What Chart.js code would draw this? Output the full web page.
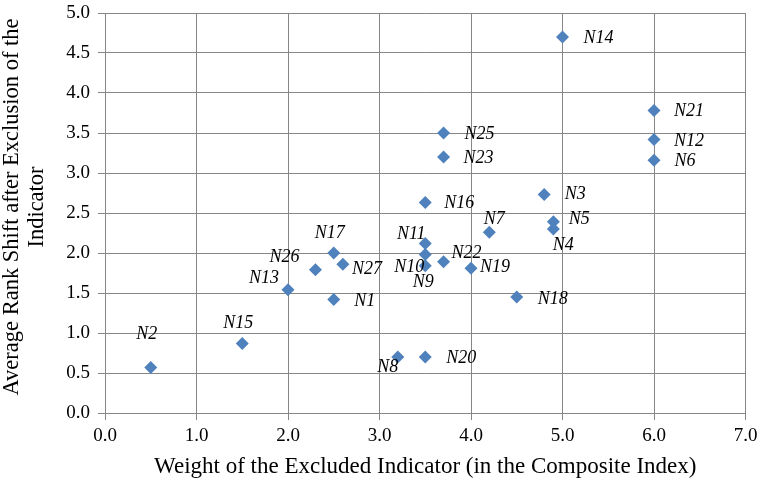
<!DOCTYPE html>
<html>
<head>
<meta charset="utf-8">
<script src="https://cdn.jsdelivr.net/npm/chart.js@4"></script>
<style>
html,body{margin:0;padding:0;background:#fff;}
#wrap{width:759px;height:482px;position:relative;}
</style>
</head>
<body>
<div id="wrap"><canvas id="c" width="759" height="482"></canvas></div>
<script>
const labels = ["N1","N2","N3","N4","N5","N6","N7","N8","N9","N10","N11","N12","N13","N14","N15","N16","N17","N18","N19","N20","N21","N22","N23","N25","N26","N27"];
const weights = [2.5,0.5,4.8,4.9,4.9,6.0,4.2,3.2,3.5,3.5,3.5,6.0,2.0,5.0,1.5,3.5,2.5,4.5,4.0,3.5,6.0,3.7,3.7,3.7,2.3,2.6];
const rankShift = [1.42,0.57,2.73,2.30,2.39,3.16,2.26,0.70,1.84,1.98,2.12,3.42,1.54,4.70,0.87,2.63,2.00,1.45,1.81,0.70,3.78,1.89,3.20,3.50,1.79,1.86];
const xTickLabels = ["0.0","1.0","2.0","3.0","4.0","5.0","6.0","7.0"];
const yTickLabels = ["0.0","0.5","1.0","1.5","2.0","2.5","3.0","3.5","4.0","4.5","5.0"];
const xTitle = "Weight of the Excluded Indicator (in the Composite Index)";
const yTitle = ["Average Rank Shift after Exclusion of the","Indicator"];

// label placement relative to each marker (style, not data)
const labelOffsets = {
  N1:[31,2], N2:[-4,-33], N3:[31,0], N4:[10,16], N5:[26,-3], N6:[31,1], N7:[5,-13],
  N8:[-10,10], N9:[-2,16], N10:[-16,13], N11:[-14,-9], N12:[35,2], N13:[-24,-12],
  N14:[36,1], N15:[-4,-20], N16:[34,1], N17:[-4,-20], N18:[36,2], N19:[24,-1],
  N20:[36,1], N21:[35,1], N22:[23,-9], N23:[35,1], N25:[36,1], N26:[-31,-13], N27:[24,5]
};

const points = weights.map((w,i)=>({x:w, y:rankShift[i]}));
const serif = "'Liberation Serif','Times New Roman',serif";
const gridColor = '#868686';

const pointLabels = {
  id:'pointLabels',
  afterDatasetsDraw(chart){
    const ctx = chart.ctx;
    const meta = chart.getDatasetMeta(0);
    ctx.save();
    ctx.font = "italic 18px " + serif;
    ctx.fillStyle = '#000';
    ctx.textAlign = 'center';
    ctx.textBaseline = 'middle';
    meta.data.forEach((el,i)=>{
      const off = labelOffsets[labels[i]] || [20,0];
      ctx.fillText(labels[i], el.x + off[0], el.y + off[1]);
    });
    ctx.restore();
  }
};

const yTitlePlugin = {
  id:'yTitlePlugin',
  afterDraw(chart){
    const ctx = chart.ctx;
    const cy = (chart.chartArea.top + chart.chartArea.bottom)/2 - 6;
    ctx.save();
    ctx.font = "22.5px " + serif;
    ctx.fillStyle = '#000';
    ctx.textAlign = 'center';
    ctx.textBaseline = 'alphabetic';
    const xs = [18.3, 42.7];
    yTitle.forEach((line,i)=>{
      ctx.save();
      ctx.translate(xs[i], cy);
      ctx.rotate(-Math.PI/2);
      ctx.fillText(line, 0, 0);
      ctx.restore();
    });
    ctx.restore();
  }
};

new Chart(document.getElementById('c'), {
  type:'scatter',
  data:{ datasets:[{
    data: points,
    pointStyle:'rectRot',
    pointRadius:6.5,
    pointHoverRadius:6.5,
    backgroundColor:'#4F81BD',
    borderColor:'#4F81BD',
    borderWidth:0
  }]},
  options:{
    responsive:false,
    animation:false,
    events:[],
    layout:{padding:{top:13,right:13.5,left:0,bottom:0}},
    plugins:{legend:{display:false}, tooltip:{enabled:false}},
    scales:{
      x:{
        type:'linear', min:0, max:7,
        afterBuildTicks(s){ s.ticks = xTickLabels.map(t=>({value:parseFloat(t)})); },
        afterFit(s){ s.height = 69; s.paddingLeft = 0; s.paddingRight = 0; },
        ticks:{ callback:(v,i)=>xTickLabels[i], color:'#000', font:{family:serif,size:19}, padding:5, maxRotation:0, autoSkip:false },
        grid:{ color:gridColor, lineWidth:1, tickLength:7, drawTicks:true, tickColor:gridColor },
        border:{ color:gridColor, width:1 },
        title:{ display:true, text:xTitle, color:'#000', font:{family:serif,size:23,lineHeight:24/23}, padding:{top:0,bottom:3} }
      },
      y:{
        type:'linear', min:0, max:5,
        afterBuildTicks(s){ s.ticks = yTickLabels.map(t=>({value:parseFloat(t)})); },
        afterFit(s){ s.width = 105; s.paddingTop = 0; s.paddingBottom = 0; },
        ticks:{ callback:(v,i)=>yTickLabels[i], color:'#000', font:{family:serif,size:19}, padding:8, autoSkip:false },
        grid:{ color:gridColor, lineWidth:1, tickLength:7, drawTicks:true, tickColor:gridColor },
        border:{ color:gridColor, width:1 },
        title:{ display:false }
      }
    }
  },
  plugins:[pointLabels, yTitlePlugin]
});
</script>
</body>
</html>
